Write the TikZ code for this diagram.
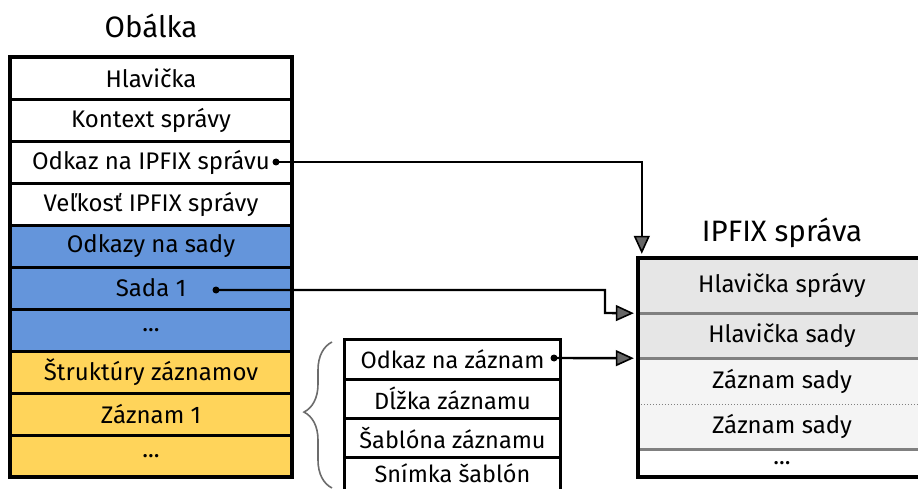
\documentclass[tikz,border=0pt]{standalone}
\usepackage{fontspec}
\setmainfont{Fira Sans}
\usetikzlibrary{arrows.meta,decorations.pathreplacing,calc}
\definecolor{blueC}{HTML}{6495DB}
\definecolor{yelC}{HTML}{FFD45A}
\definecolor{hdrC}{HTML}{E6E6E6}
\definecolor{recC}{HTML}{F4F4F4}
\begin{document}
\begin{tikzpicture}[x=1pt,y=-1pt,
  cell/.style={minimum width=282pt,minimum height=42pt,inner sep=0pt,font=\fontsize{24}{28}\selectfont,anchor=center},
  mcell/.style={minimum width=215pt,minimum height=39pt,inner sep=0pt,font=\fontsize{23.5}{28}\selectfont},
  rcell/.style={minimum width=288pt,inner sep=0pt,font=\fontsize{24}{28}\selectfont},
  title/.style={font=\fontsize{29.5}{34}\selectfont},
  sep/.style={line width=3pt},
  gsep/.style={gray,line width=2.8pt},
  conn/.style={line width=2.4pt,-{Triangle[length=18pt,width=16pt,fill=black!60,line width=1.6pt]}},
  dotc/.style={circle,fill=black,inner sep=0pt,minimum size=7pt}]
\useasboundingbox (0,0) rectangle (918,489);
\clip (0,0) rectangle (918,489);
\fill[white] (0,0) rectangle (918,489);
% left
\node[title] (tl) at (151,26) {Obálka};
\node[cell,fill=white] (l1) at (151,78) {Hlavička};
\node[cell,fill=white] (l2) at (151,120) {Kontext správy};
\node[cell,fill=white] (l3) at (151,162) {Odkaz na IPFIX správu\hspace{10pt}};
\node[cell,fill=white] (l4) at (151,204) {Veľkosť IPFIX správy};
\node[cell,fill=blueC] (l5) at (151,246) {Odkazy na sady};
\node[cell,fill=blueC] (l6) at (151,288) {Sada 1};
\node[cell,fill=blueC] (l7) at (151,330) {...};
\node[cell,fill=yelC] (l8) at (151,372) {Štruktúry záznamov};
\node[cell,fill=yelC] (l9) at (151,414) {Záznam 1};
\node[cell,fill=yelC] (l10) at (151,456) {...};
\foreach \i in {1,...,9} {\draw[sep] (l\i.south west) -- (l\i.south east);}
\draw[line width=3.8pt] (l1.north west) rectangle (l10.south east);
% middle
\node[mcell] (m1) at (452.5,359.5) {Odkaz na záznam\hspace{8pt}};
\node[mcell] (m2) at (452.5,398.5) {Dĺžka záznamu};
\node[mcell] (m3) at (452.5,437.5) {Šablóna záznamu};
\node[mcell,minimum height=32pt] (m4) at (452.5,473) {Snímka šablón};
\foreach \i in {1,2,3} {\draw[sep] (m\i.south west) -- (m\i.south east);}
\draw[sep] ($(m4.south west)+(0,8)$) -- (m1.north west) -- (m1.north east) -- ($(m4.south east)+(0,8)$);
\draw[gray!85!black,line width=1.6pt,decorate,decoration={brace,amplitude=28pt,mirror,aspect=0.48}] (332,342) -- (332,488);
% right
\node[title] (tr) at (782,233) {IPFIX správa};
\node[rcell,fill=hdrC,minimum height=55pt] (r1) at (782,285.5) {Hlavička správy};
\node[rcell,fill=hdrC,minimum height=45pt] (r2) at (782,335.5) {Hlavička sady};
\node[rcell,fill=recC,minimum height=46pt] (r3) at (782,381) {Záznam sady};
\node[rcell,fill=recC,minimum height=45pt] (r4) at (782,426.5) {Záznam sady};
\node[rcell,fill=white,minimum height=28pt] (r5) at (782,463) {...};
\draw[gsep] (r1.south west) -- (r1.south east);
\draw[gsep] (r2.south west) -- (r2.south east);
\draw[gray,line width=1pt,dotted] (r3.south west) -- (r3.south east);
\draw[gsep] (r4.south west) -- (r4.south east);
\draw[line width=3.8pt] (r1.north west) rectangle (r5.south east);
% connectors
\node[dotc] (d1) at (276,162) {};
\node[dotc] (d2) at (216,290) {};
\node[dotc] (d3) at (554,358) {};
\coordinate (t1) at ($(r1.north west)+(4,-4)$);
\coordinate (t2) at ($(r1.south west)+(-4,0)$);
\coordinate (t3) at ($(r2.south west)+(-4,0)$);
\draw[conn] (d1.center) -| (t1);
\draw[conn] (d2.center) -| (605,313) -- (t2);
\draw[conn] (d3.center) -- (t3);
\end{tikzpicture}
\end{document}
